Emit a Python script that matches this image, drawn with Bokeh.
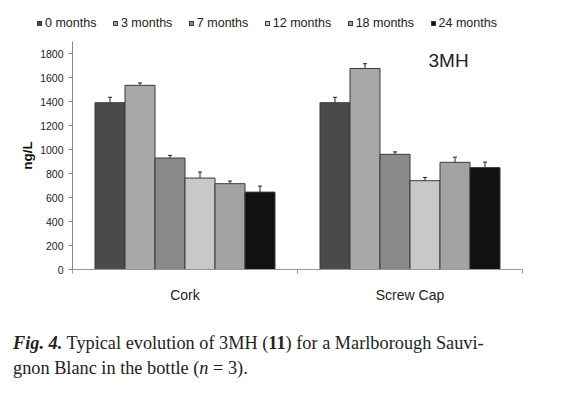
from bokeh.plotting import figure
from bokeh.models import (ColumnDataSource, Range1d, FixedTicker, Label, Whisker, TeeHead, Div)
from bokeh.transform import dodge
from bokeh.layouts import column
from bokeh.embed import file_html
from bokeh.resources import INLINE

# ---- data ----
closures = ["Cork", "Screw Cap"]
months = ["0 months", "3 months", "7 months", "12 months", "18 months", "24 months"]
m0 = [1390, 1390]
m3 = [1535, 1675]
m7 = [929, 960]
m12 = [762, 740]
m18 = [715, 893]
m24 = [645, 849]
e0 = [45, 45]
e3 = [20, 40]
e7 = [22, 20]
e12 = [50, 27]
e18 = [22, 43]
e24 = [50, 46]
y_ticks = [0, 200, 400, 600, 800, 1000, 1200, 1400, 1600, 1800]

series = [m0, m3, m7, m12, m18, m24]
errs = [e0, e3, e7, e12, e18, e24]
colors = ["#4a4a4a", "#a8a8a8", "#8a8a8a", "#c8c8c8", "#a3a3a3", "#111111"]

x_centers = [i + 0.5 for i in range(len(closures))]
data = {"x": x_centers}
for k, (v, e) in enumerate(zip(series, errs)):
    data[f"v{k}"] = v
    data[f"lo{k}"] = [a - b for a, b in zip(v, e)]
    data[f"hi{k}"] = [a + b for a, b in zip(v, e)]
src = ColumnDataSource(data)

FONT = "Liberation Sans"
W = 559
bw = 0.8 / len(months)
offsets = [(k - (len(months) - 1) / 2) * bw for k in range(len(months))]

# ---- legend strip (HTML, above the chart) ----
items_html = "".join(
    "<span style=\"display:inline-flex;align-items:center;gap:3px;\">"
    f"<span style=\"display:inline-block;width:5px;height:5px;background:{c};"
    "border:1px solid #3a3a3a;\"></span>"
    f"<span>{m}</span></span>"
    for m, c in zip(months, colors))
legend_div = Div(width=W, height=33, margin=0, text=(
    f"<div style=\"font-family:'{FONT}';font-size:12.5px;line-height:15px;color:#222;"
    "display:flex;align-items:center;gap:16.5px;padding:16px 0 0 37px;white-space:nowrap;\">"
    f"{items_html}</div>"))

# ---- main chart ----
p = figure(width=W, height=275, x_range=Range1d(0, len(closures)), y_range=Range1d(0, 1900),
           output_backend="svg", toolbar_location=None,
           min_border_left=72, min_border_right=37, min_border_top=8, min_border_bottom=39)
p.xgrid.visible = False
p.ygrid.visible = False
p.outline_line_color = None

for k in range(len(months)):
    p.vbar(x=dodge("x", offsets[k]), top=f"v{k}", width=bw, source=src,
           fill_color=colors[k], line_color="#3a3a3a", line_width=1)
    p.add_layout(Whisker(base=dodge("x", offsets[k]), lower=f"lo{k}", upper=f"hi{k}", source=src,
                         line_color="#222222", line_width=1,
                         upper_head=TeeHead(size=4, line_color="#222222", line_width=1),
                         lower_head=TeeHead(size=4, line_color="#222222", line_width=1)))

# y axis
ya = p.yaxis[0]
ya.ticker = FixedTicker(ticks=y_ticks)
ya.axis_line_color = "#888888"
ya.major_tick_line_color = "#888888"
ya.major_tick_out = 4
ya.major_tick_in = 0
ya.minor_tick_line_color = None
ya.major_label_text_font = FONT
ya.major_label_text_font_size = "10.5px"
ya.major_label_text_color = "#222222"
ya.major_label_standoff = 5
ya.axis_label = "ng/L"
ya.axis_label_text_font = FONT
ya.axis_label_text_font_style = "bold"
ya.axis_label_text_font_size = "13.5px"
ya.axis_label_text_color = "#111111"
ya.axis_label_standoff = 2

# x axis
xa = p.xaxis[0]
xa.ticker = FixedTicker(ticks=x_centers, minor_ticks=list(range(len(closures) + 1)))
xa.major_label_overrides = dict(zip(x_centers, closures))
xa.axis_line_color = "#999999"
xa.major_tick_line_color = None
xa.major_tick_out = 4
xa.major_tick_in = 0
xa.minor_tick_line_color = "#999999"
xa.minor_tick_out = 4
xa.minor_tick_in = 0
xa.major_label_text_font = FONT
xa.major_label_text_font_size = "14px"
xa.major_label_text_color = "#222222"
xa.major_label_standoff = 13

p.add_layout(Label(x=356, y=209, x_units="screen", y_units="screen", text="3MH",
                   text_font=FONT, text_font_size="19px", text_color="#222222",
                   text_baseline="alphabetic"))

caption = Div(width=W, height=76, text=(
    "<div style=\"font-family:'Liberation Serif';font-size:18.3px;line-height:25px;"
    "color:#222;padding:18px 0 0 8px;white-space:nowrap;\">"
    "<b><i>Fig. 4.</i></b> Typical evolution of 3MH (<b>11</b>) for a Marlborough Sauvi-<br>"
    "gnon Blanc in the bottle (<i>n</i> = 3).</div>"))

layout = column(legend_div, p, caption)
open("out.html", "w").write(file_html(layout, INLINE))
